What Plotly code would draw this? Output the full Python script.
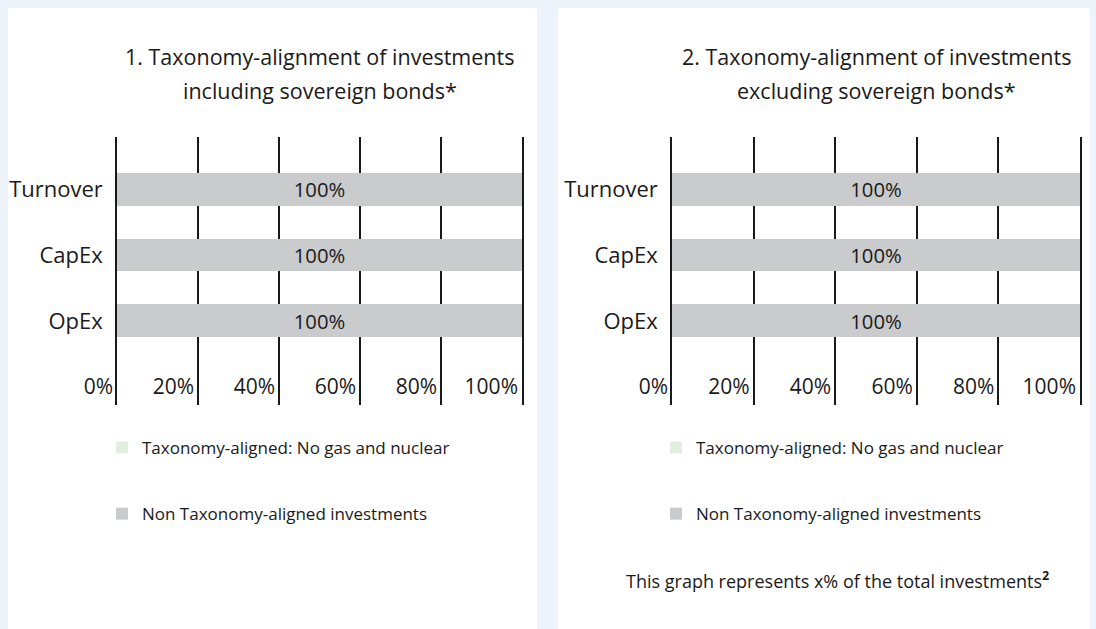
import plotly.graph_objects as go

W, H = 1096, 629

categories = ["Turnover", "CapEx", "OpEx"]
aligned_incl = [0, 0, 0]
non_aligned_incl = [100, 100, 100]
aligned_excl = [0, 0, 0]
non_aligned_excl = [100, 100, 100]
tick_vals = [0, 20, 40, 60, 80, 100]
tick_text = ["0%", "20%", "40%", "60%", "80%", "100%"]
bar_text = ["100%", "100%", "100%"]

title1 = ["1. Taxonomy-alignment of investments", "including sovereign bonds*"]
title2 = ["2. Taxonomy-alignment of investments", "excluding sovereign bonds*"]
legend_names = ["Taxonomy-aligned: No gas and nuclear", "Non Taxonomy-aligned investments"]
footer = "This graph represents x% of the total investments<sup><b>2</b></sup>"

FONT = "Open Sans"
GREEN = "#e2eedf"
GREY_BAR = "#c9cbcd"
INK = "#1a1a1a"
BG = "#eef4fb"

fig = go.Figure()


def px_x(p):
    return p / W


def px_y(p):
    return 1 - p / H


panels = [
    dict(xa="x", ya="y", xdom=[px_x(117), px_x(522)], aligned=aligned_incl,
         non=non_aligned_incl, legend="legend", title=title1),
    dict(xa="x2", ya="y2", xdom=[px_x(672), px_x(1080)], aligned=aligned_excl,
         non=non_aligned_excl, legend="legend2", title=title2),
]

for i, p in enumerate(panels):
    fig.add_trace(go.Bar(
        y=categories, x=p["aligned"], orientation="h", name=legend_names[0],
        marker=dict(color=GREEN, line=dict(width=0)), width=0.5,
        xaxis=p["xa"], yaxis=p["ya"], legend=p["legend"], legendgroup="a",
        hoverinfo="skip",
    ))
    fig.add_trace(go.Bar(
        y=categories, x=p["non"], orientation="h", name=legend_names[1],
        marker=dict(color=GREY_BAR, line=dict(width=0)), width=0.5,
        text=bar_text, textposition="inside", insidetextanchor="middle",
        textfont=dict(family=FONT, size=21, color=INK),
        xaxis=p["xa"], yaxis=p["ya"], legend=p["legend"], legendgroup="b",
        hoverinfo="skip",
    ))

ydom = [px_y(405), px_y(137)]
xaxis_common = dict(
    range=[0, 100], tickvals=tick_vals, ticktext=tick_text, automargin=False,
    showgrid=True, gridcolor=INK, gridwidth=1.6, zeroline=False,
    showline=False, ticks="", ticklabelposition="outside left",
    ticklabelstandoff=-33, ticklabelshift=-4,
    tickfont=dict(family=FONT, size=21, color=INK), fixedrange=True,
)
yaxis_common = dict(
    type="category", categoryorder="array", categoryarray=categories,
    range=[3.273, -0.788], showgrid=False, zeroline=False, automargin=False,
    showline=True, mirror=True, linecolor=INK, linewidth=1.6,
    ticks="", ticklabelstandoff=8, fixedrange=True,
    tickfont=dict(family=FONT, size=22, color=INK), domain=ydom,
)

leg_common = dict(xanchor="left", yanchor="top", bgcolor="rgba(0,0,0,0)",
                  tracegroupgap=41, traceorder="grouped",
                  font=dict(family=FONT, size=17, color=INK), itemclick=False)

fig.update_layout(
    width=W, height=H, autosize=False,
    margin=dict(l=0, r=0, t=0, b=0, autoexpand=False),
    paper_bgcolor=BG, plot_bgcolor="rgba(0,0,0,0)",
    barmode="stack", bargap=0.5,
    font=dict(family=FONT, color=INK),
    xaxis=dict(domain=panels[0]["xdom"], anchor="y", **xaxis_common),
    yaxis=dict(anchor="x", **yaxis_common),
    xaxis2=dict(domain=panels[1]["xdom"], anchor="y2", **xaxis_common),
    yaxis2=dict(anchor="x2", **yaxis_common),
    showlegend=True,
    legend=dict(x=px_x(102), y=px_y(430), **leg_common),
    legend2=dict(x=px_x(656), y=px_y(430), **leg_common),
)

# white panel backgrounds
fig.add_shape(type="rect", xref="paper", yref="paper", x0=px_x(8), x1=px_x(537),
              y0=-0.05, y1=px_y(8), fillcolor="white", line=dict(width=0), layer="below")
fig.add_shape(type="rect", xref="paper", yref="paper", x0=px_x(558), x1=px_x(1090),
              y0=-0.05, y1=px_y(8), fillcolor="white", line=dict(width=0), layer="below")

for p in panels:
    dom = p["xa"] + " domain"
    for j, line in enumerate(p["title"]):
        fig.add_annotation(text=line, xref=dom, yref="paper", x=0.5,
                           y=px_y(57 + 34 * j), xanchor="center", yanchor="middle",
                           showarrow=False, font=dict(family=FONT, size=21.5, color=INK))

fig.add_annotation(text=footer, xref="paper", yref="paper", x=px_x(837), y=px_y(580),
                   xanchor="center", yanchor="middle", showarrow=False,
                   font=dict(family=FONT, size=18, color=INK))

fig.write_html("out.html", config={"displayModeBar": False},
               post_script="document.body.style.margin='0px';")
